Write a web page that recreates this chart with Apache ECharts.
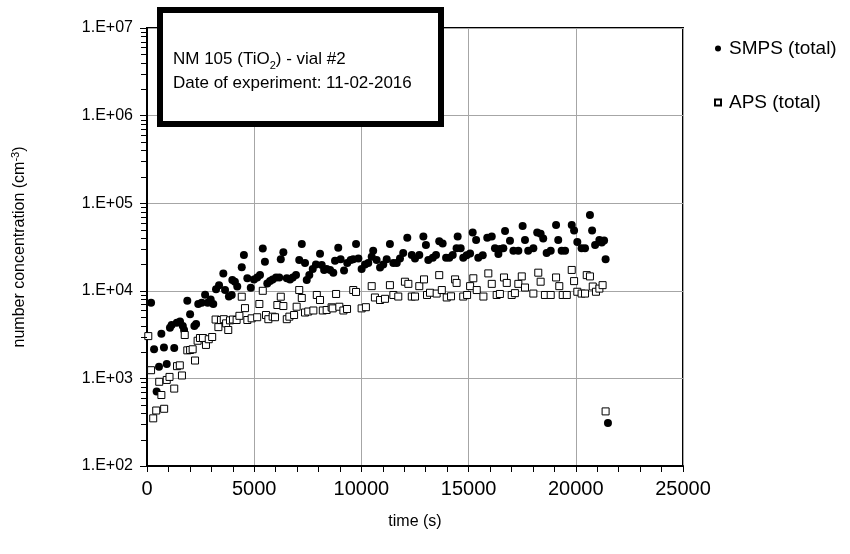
<!DOCTYPE html>
<html><head><meta charset="utf-8">
<script src="https://cdn.jsdelivr.net/npm/echarts@6/dist/echarts.min.js"></script>
<style>html,body{margin:0;padding:0;background:#fff}#c{width:850px;height:554px}</style>
</head><body><div id="c"></div>
<script>
const smpsTime=[190,330,450,560,670,790,920,1070,1150,1270,
1390,1540,1670,1730,1880,2010,2210,2290,2390,2550,
2710,2830,2970,3090,3220,3360,3560,3640,3820,3950,
3980,4100,4210,4420,4520,4680,4840,4990,5140,5270,
5400,5500,5610,5740,5860,6020,6170,6240,6360,6520,
6670,6800,6950,7100,7220,7370,7450,7570,7730,7880,
8070,8150,8260,8380,8540,8690,8770,8920,9030,9190,
9340,9500,9620,9750,9860,10010,10170,10320,10480,10550,
10710,10870,11020,11180,11330,11490,11650,11800,11950,12140,
12350,12500,12700,12890,13010,13120,13330,13480,13630,13790,
13950,14100,14260,14440,14490,14630,14750,14910,15070,15190,
15350,15450,15660,15870,16080,16230,16390,16460,16620,16700,
16930,17090,17320,17520,17630,17780,18020,18200,18360,18480,
18640,18830,19080,19180,19340,19500,19810,19920,20070,20270,
20430,20660,20760,20900,21100,21210,21320,21390,21500];
const smpsConc=[7300,2150,710,1360,3230,2250,1460,3780,4070,2220,
4330,4450,3970,3570,7700,5390,3970,4180,7070,7320,
9000,7300,7980,7070,10400,11600,15800,10200,8600,8960,
13300,12700,11200,18600,25600,13900,10800,13500,14200,15100,
30500,21500,12100,12900,13500,14200,14200,22900,27600,13900,
13500,14200,15100,22500,34300,20800,13300,15100,17700,19900,
26500,19700,17300,17700,17300,16100,22100,31000,22900,17100,
20800,22500,22900,34200,23400,17700,19900,20700,24400,28600,
22500,18400,19900,22900,34200,20800,20800,23400,27000,40300,
25600,23400,25600,41700,33300,22500,23900,25600,36900,34600,
23900,23900,25600,30700,41700,30700,23900,25400,26700,46400,
38000,23900,25400,40400,41700,30700,26300,30000,30700,48300,
37200,28600,28600,55000,38000,28600,30700,46200,44800,39600,
27000,28600,56400,38000,28600,28600,56400,48700,36000,30700,
30700,73300,48700,33300,38000,35500,37500,22900,310];
const apsTime=[60,190,290,430,570,670,800,920,1050,1270,
1400,1530,1630,1760,1880,2010,2130,2240,2360,2470,
2610,2750,2880,3040,3200,3330,3450,3580,3690,3790,
3870,4010,4180,4310,4420,4570,4680,4880,5140,5240,
5400,5550,5660,5860,5970,6080,6240,6360,6520,6640,
6860,6980,7100,7220,7370,7520,7760,7920,8070,8200,
8380,8610,8660,8820,8970,9160,9330,9620,9750,10010,
10210,10480,10630,10870,11100,11330,11490,11720,12030,12190,
12350,12500,12700,12920,13060,13200,13510,13630,13750,13980,
14180,14370,14440,14750,14930,15070,15220,15380,15690,15920,
16080,16310,16460,16650,16780,17010,17160,17320,17480,17630,
18020,18250,18360,18560,18830,19080,19230,19390,19580,19810,
19920,20070,20270,20430,20510,20660,20790,20940,21100,21250,
21390];
const apsConc=[3040,1240,350,430,915,646,450,960,1040,765,
1380,1410,1080,3130,2090,2110,2150,1600,2690,2890,
2890,2410,2800,2970,4700,3850,4640,4740,4250,3570,
4600,4700,4640,5180,8560,6340,4640,4850,4990,7070,
10000,5290,4740,5070,4990,6880,8560,6700,4740,5070,
5290,6580,10200,8280,5650,5800,5960,8960,7850,5960,
6040,6480,6300,9200,6580,5960,6200,10200,9700,6300,
6500,11300,8390,7850,8100,11600,8960,8600,12700,12000,
8600,8600,11300,13500,8960,9500,9300,15100,10200,8390,
8650,13500,12300,8600,8960,11300,13900,10200,8600,15800,
12000,8960,9200,14200,12300,8960,9400,12000,14600,10900,
9300,16100,12700,8960,8960,14200,11300,8960,8960,17300,
12900,9750,9300,9300,15100,14600,11200,9750,10600,11600,
420];
const seriesNames=['SMPS (total)','APS (total)'];
const yTickLabels=['1.E+02','1.E+03','1.E+04','1.E+05','1.E+06','1.E+07'];
const annotationText='NM 105 (TiO{sub|2}) - vial #2\nDate of experiment: 11-02-2016';
const xName='time (s)';
const yName='number concentration (cm{sup|-3})';

const FONT='Liberation Sans, Arial, sans-serif';
const smpsData=smpsTime.map((t,i)=>[t,smpsConc[i]]);
const apsData=apsTime.map((t,i)=>[t,apsConc[i]]);
const minorTickVals=[];
for(let k=2;k<7;k++){for(let m=2;m<10;m++){minorTickVals.push(m*Math.pow(10,k));}}

const chart=echarts.init(document.getElementById('c'),null,{renderer:'canvas'});
const boxGraphics=[
  {id:'box',type:'rect',z:100,shape:{x:160,y:10,width:281,height:114},style:{fill:'#fff',stroke:'#000',lineWidth:6}},
  {id:'boxText',type:'text',z:101,x:173,y:47,style:{text:annotationText,fontSize:17,fontFamily:FONT,fill:'#000',lineHeight:24,
    rich:{sub:{fontSize:11,fontFamily:FONT,fill:'#000',verticalAlign:'bottom',lineHeight:24}}}}
];
chart.setOption({
  animation:false,
  backgroundColor:'#fff',
  grid:{left:147,right:167,top:28,bottom:88,show:true,borderColor:'#000',borderWidth:2,backgroundColor:'transparent'},
  legend:{
    orient:'vertical',left:709,top:34,itemGap:35,itemWidth:6,itemHeight:6,
    textStyle:{fontSize:19,fontFamily:FONT,color:'#000',padding:[0,0,0,3]},
    data:[{name:seriesNames[0],icon:'circle'},{name:seriesNames[1],icon:'rect'}]
  },
  xAxis:{
    type:'value',min:0,max:25000,interval:5000,
    name:xName,nameLocation:'middle',nameGap:48,
    nameTextStyle:{fontSize:16,fontFamily:FONT,color:'#000'},
    axisLine:{show:true,lineStyle:{color:'#000',width:2}},
    axisTick:{show:true,inside:false,length:6,lineStyle:{color:'#000',width:1}},
    minorTick:{show:true,splitNumber:5,length:6,lineStyle:{color:'#000',width:1}},
    splitLine:{show:true,lineStyle:{color:'#a6a6a6',width:1}},
    axisLabel:{fontSize:20,fontFamily:FONT,color:'#000',margin:13,formatter:function(v){return String(v);}}
  },
  yAxis:{
    type:'log',logBase:10,min:100,max:10000000,
    name:yName,nameLocation:'middle',nameGap:118,
    nameTextStyle:{fontSize:16,fontFamily:FONT,color:'#000',rich:{sup:{fontSize:11,fontFamily:FONT,color:'#000',verticalAlign:'top',padding:[0,0,8,0]}}},
    axisLine:{show:true,lineStyle:{color:'#000',width:2}},
    axisTick:{show:true,inside:false,length:7,lineStyle:{color:'#000',width:1}},
    splitLine:{show:true,lineStyle:{color:'#a6a6a6',width:1}},
    axisLabel:{fontSize:16,fontFamily:FONT,color:'#000',margin:14,
      formatter:function(v){return yTickLabels[Math.round(Math.log10(v))-2];}}
  },
  series:[
    {type:'scatter',name:seriesNames[0],data:smpsData,symbol:'circle',symbolSize:8,
      itemStyle:{color:'#000',opacity:1},z:4},
    {type:'scatter',name:seriesNames[1],data:apsData,symbol:'rect',symbolSize:7,
      itemStyle:{color:'#fff',borderColor:'#000',borderWidth:1,opacity:1},z:5}
  ],
  graphic:boxGraphics
});
// log-axis minor ticks (2..9 x 10^k), positioned through the chart's own y scale
const x0=chart.convertToPixel({xAxisIndex:0},0);
const tickGraphics=minorTickVals.map(function(v,i){
  const y=Math.round(chart.convertToPixel({yAxisIndex:0},v))+0.5;
  return {id:'mt'+i,type:'line',z:50,shape:{x1:x0-6,y1:y,x2:x0,y2:y},style:{stroke:'#000',lineWidth:1}};
});
chart.setOption({graphic:boxGraphics.concat(tickGraphics)});
</script></body></html>
